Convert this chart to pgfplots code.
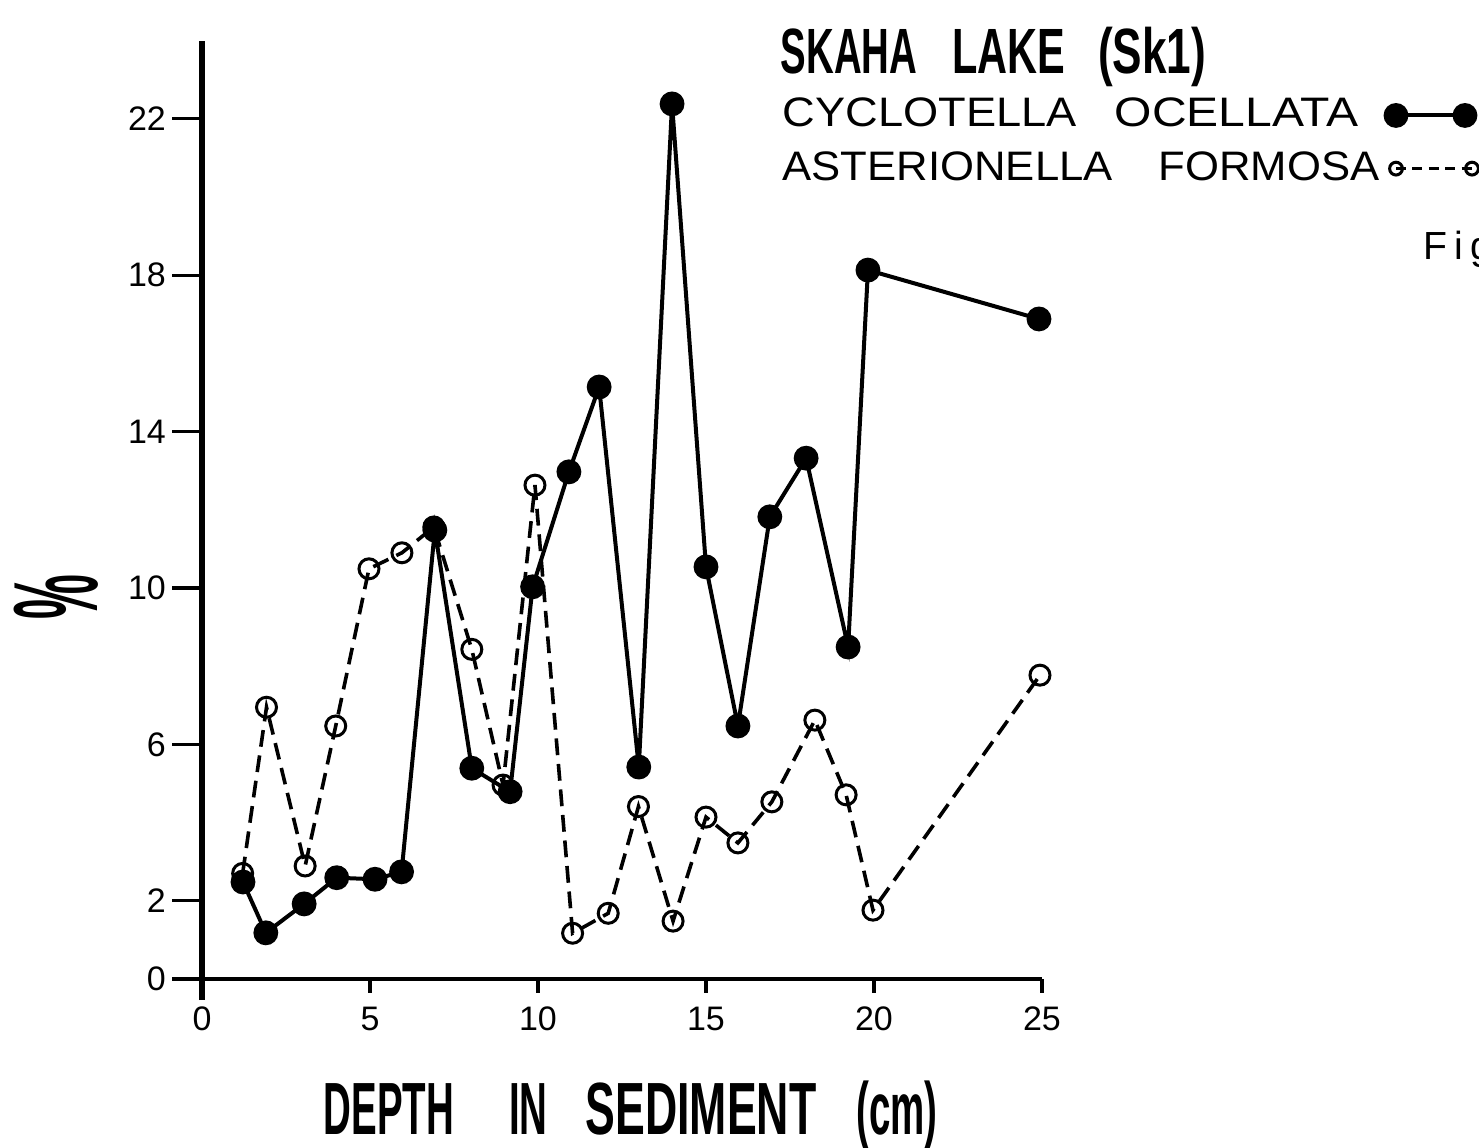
\documentclass[border=0pt]{standalone}
\usepackage{fontspec}
\setmainfont{Liberation Sans}
\newfontfamily\titlefont[FakeStretch=0.6]{Liberation Sans Bold}
\newfontfamily\labfont[FakeStretch=0.52]{Liberation Sans Bold}
\newfontfamily\pctfont[FakeStretch=0.42]{Liberation Sans Bold}
\newfontfamily\legfont[FakeStretch=1.06]{Liberation Sans}
\usepackage{pgfplots}
\pgfplotsset{compat=1.18}

\pgfplotsset{
  frame/.style={
    x=8.4pt, y=9.775pt,
    xmin=-0.8, xmax=25, ymin=-0.54, ymax=24,
    axis lines=middle,
    axis line style={-, black},
    tick align=outside,
    minor tick num=0,
    hide obscured x ticks=false, hide obscured y ticks=false,
    tick label style={font=\fontsize{8.5}{8.5}\selectfont},
    /pgf/number format/assume math mode=true,
    clip=false,
  },
  openlegend/.style={legend image code/.code={\draw[##1, mark size=1.6pt, dash pattern=on 2.5pt off 1.6pt]
    plot coordinates {(0pt,0pt) (19pt,0pt)};}},
  filledlegend/.style={legend image code/.code={\draw[##1]
    plot coordinates {(0pt,0pt) (17.25pt,0pt)};}},
}

\begin{document}
\begin{tikzpicture}
% y ticks (long) only
\begin{axis}[frame,
  x axis line style={draw=none}, y axis line style={draw=none},
  xtick=\empty, ytick={0,2,6,10,14,18,22},
  major tick length=7.5pt,
  ytick style={line width=0.8pt, black},
  yticklabel style={xshift=2pt},
]
\end{axis}
% main axis: lines, x ticks, data
\begin{axis}[frame,
  x axis line style={line width=0.8pt},
  y axis line style={line width=1.3pt},
  xtick={0,5,...,25}, ytick=\empty,
  major tick length=3.5pt,
  xtick style={line width=1pt, black},
  reverse legend,
  legend plot pos=right,
  legend cell align=left,
  legend style={at={(axis cs:17.26,22.55)}, anchor=north west, draw=none, fill=none,
    inner sep=0pt, row sep=4.6pt, column sep=1.5pt, nodes={inner sep=0pt},
    font=\legfont\fontsize{10.3}{10.3}\selectfont},
]
\coordinate (bl) at (axis cs:-6.012,-4.322);
\coordinate (tr) at (axis cs:38.006,25.038);

% Asterionella formosa (open circles, dashed)
\addplot[black, line width=0.9pt, dash pattern=on 4.2pt off 2.2pt,
  mark=o, mark size=2.5pt, mark options={solid, fill=white, line width=0.75pt},
  openlegend]
coordinates {
(1.21,2.70) (1.92,6.95) (3.07,2.89) (3.98,6.47) (4.97,10.49) (5.95,10.90)
(6.90,11.56) (8.03,8.43) (8.96,4.96) (9.91,12.63) (11.03,1.17) (12.09,1.68)
(12.99,4.41) (14.02,1.48) (15.00,4.14) (15.95,3.48) (16.96,4.53) (18.24,6.62)
(19.17,4.71) (19.97,1.76) (24.94,7.77)
};
\addlegendentry{ASTERIONELLA\hspace{11.5pt}FORMOSA}

% Cyclotella ocellata (filled circles, solid)
\addplot[black, line width=1pt, mark=*, mark size=2.6pt, mark options={solid},
  filledlegend]
coordinates {
(1.22,2.48) (1.90,1.18) (3.04,1.92) (4.01,2.59) (5.15,2.55) (5.94,2.74)
(6.93,11.48) (8.03,5.39) (9.17,4.79) (9.84,10.03) (10.92,12.97) (11.82,15.14)
(13.00,5.42) (13.99,22.38) (15.00,10.54) (15.95,6.47) (16.90,11.82) (17.98,13.32)
(19.23,8.49) (19.82,18.13) (24.91,16.88)
};
\addlegendentry{\scalebox{1.035}[1]{CYCLOTELLA}\hspace{9.5pt}\scalebox{1.1}[1]{OCELLATA}}

\node[anchor=base west, inner sep=0pt] at (axis cs:17.2,23.17)
  {\titlefont\fontsize{16}{16}\selectfont SKAHA\hspace{8.75pt}\scalebox{1.08}[1]{LAKE}\hspace{8.25pt}\scalebox{1.15}[1]{(Sk1)}};
\node[anchor=base west, inner sep=0pt] at (axis cs:3.6,-3.99)
  {\labfont\fontsize{18.5}{18.5}\selectfont DEPTH\hspace{13.75pt}IN\hspace{9.5pt}\scalebox{1.16}[1]{SEDIMENT}\hspace{10pt}(cm)};
\node[rotate=90, inner sep=0pt] at (axis cs:-4.35,9.77)
  {\pctfont\fontsize{30}{30}\selectfont\%};
\node[anchor=base west, inner sep=0pt] at (axis cs:36.34,18.39)
  {\fontsize{9.8}{9.8}\selectfont F\hspace{1.8pt}i\hspace{1.8pt}g.};
\end{axis}
\pgfresetboundingbox
\path[use as bounding box] (bl) rectangle (tr);
\end{tikzpicture}
\end{document}
